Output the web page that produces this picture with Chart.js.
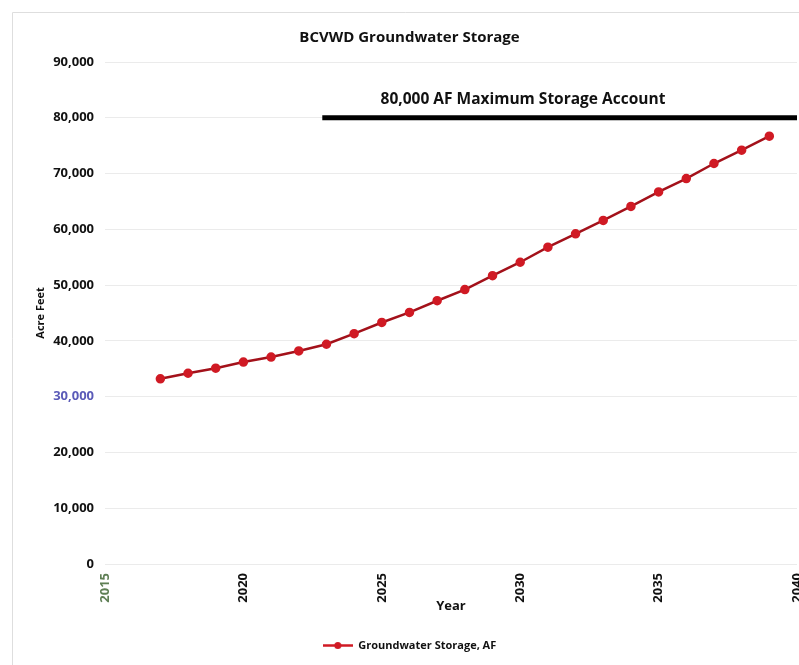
<!DOCTYPE html>
<html>
<head>
<meta charset="utf-8">
<title>BCVWD Groundwater Storage</title>
<script src="https://cdn.jsdelivr.net/npm/chart.js@4/dist/chart.umd.min.js"></script>
<style>
  html, body { margin: 0; padding: 0; background: #fff; }
  #wrap { width: 799px; height: 665px; }
</style>
</head>
<body>
<div id="wrap"><canvas id="storageChart" width="799" height="665"></canvas></div>
<script>
// projected storage by year (acre-feet)
const years = [2017, 2018, 2019, 2020, 2021, 2022, 2023, 2024, 2025, 2026, 2027, 2028,
               2029, 2030, 2031, 2032, 2033, 2034, 2035, 2036, 2037, 2038, 2039];
const storageAF = [33200, 34200, 35100, 36200, 37100, 38200, 39400, 41300, 43300, 45100, 47200, 49200,
                   51700, 54100, 56800, 59200, 61600, 64100, 66700, 69100, 71800, 74200, 76700];

// storage account ceiling, drawn as a heavy bar
const capYears = [2022.85, 2040];
const capAF = [80000, 80000];
const capLabel = '80,000 AF Maximum Storage Account';

const FONT = '"Open Sans", "DejaVu Sans", sans-serif';
const RED = '#d01a24';

// legend swatch: short line with a marker in the middle
const legendSwatch = document.createElement('canvas');
legendSwatch.width = 30;
legendSwatch.height = 9;
(function () {
  const c = legendSwatch.getContext('2d');
  c.strokeStyle = RED;
  c.lineWidth = 2.5;
  c.beginPath(); c.moveTo(0, 4.5); c.lineTo(30, 4.5); c.stroke();
  c.fillStyle = RED;
  c.beginPath(); c.arc(15, 4.5, 3.5, 0, Math.PI * 2); c.fill();
})();

const framePlugin = {
  id: 'frame',
  beforeDraw(chart) {
    const { ctx, width, height } = chart;
    ctx.save();
    ctx.fillStyle = '#fff';
    ctx.fillRect(0, 0, width, height);
    ctx.strokeStyle = '#dedede';
    ctx.lineWidth = 1;
    ctx.beginPath();
    ctx.moveTo(12.5, height);
    ctx.lineTo(12.5, 12.5);
    ctx.lineTo(width, 12.5);
    ctx.stroke();
    ctx.restore();
  }
};

const capLabelPlugin = {
  id: 'capLabel',
  afterDatasetsDraw(chart) {
    const { ctx, scales: { x, y } } = chart;
    ctx.save();
    ctx.font = 'bold 15.5px ' + FONT;
    ctx.fillStyle = '#111';
    ctx.textAlign = 'center';
    ctx.textBaseline = 'middle';
    ctx.fillText(capLabel, x.getPixelForValue(2030.1), y.getPixelForValue(capAF[0]) - 18);
    ctx.restore();
  }
};

new Chart(document.getElementById('storageChart'), {
  type: 'line',
  data: {
    datasets: [
      {
        label: 'Groundwater Storage, AF',
        data: years.map((yr, i) => ({ x: yr, y: storageAF[i] })),
        borderColor: '#a3111a',
        borderWidth: 2.5,
        pointRadius: 3.5,
        pointBackgroundColor: RED,
        pointBorderColor: RED,
        tension: 0
      },
      {
        label: 'Maximum Storage',
        data: capYears.map((yr, i) => ({ x: yr, y: capAF[i] })),
        borderColor: '#000',
        borderWidth: 5,
        pointRadius: 0,
        borderCapStyle: 'butt'
      }
    ]
  },
  options: {
    responsive: false,
    animation: false,
    layout: { autoPadding: false, padding: { left: 22, right: 2, top: 0, bottom: 4 } },
    plugins: {
      title: {
        display: true,
        text: 'BCVWD Groundwater Storage',
        color: '#111',
        font: { family: FONT, size: 15, weight: 'bold' },
        padding: { top: 29, bottom: 15 }
      },
      legend: {
        position: 'bottom',
        labels: {
          usePointStyle: true,
          pointStyleWidth: 30,
          padding: 8,
          color: '#111',
          font: { family: FONT, size: 11, weight: 'bold' },
          generateLabels(chart) {
            const items = Chart.defaults.plugins.legend.labels.generateLabels(chart)
              .filter(item => item.datasetIndex === 0);
            items.forEach(item => { item.pointStyle = legendSwatch; });
            return items;
          }
        }
      },
      tooltip: { enabled: false }
    },
    scales: {
      x: {
        type: 'linear',
        min: 2015,
        max: 2040,
        border: { display: false },
        grid: { display: false, drawTicks: false },
        ticks: {
          stepSize: 5,
          minRotation: 90,
          maxRotation: 90,
          padding: 9,
          color: ctx => (ctx.tick.value === 2015 ? '#5f7f55' : '#111'),
          font: { family: FONT, size: 13, weight: 'bold' },
          callback: v => String(v)
        },
        title: {
          display: true,
          text: 'Year',
          color: '#111',
          font: { family: FONT, size: 13, weight: 'bold' },
          padding: { top: 0, bottom: 18 }
        },
        afterFit(scale) {
          // let the end labels run to the canvas edges
          scale.height = 68;
          scale.paddingLeft = 0;
          scale.paddingRight = 0;
        }
      },
      y: {
        min: 0,
        max: 90000,
        border: { display: false },
        grid: { color: '#ebebeb', drawTicks: false },
        ticks: {
          stepSize: 10000,
          padding: 11,
          color: ctx => (ctx.tick.value === 30000 ? '#5a5ab8' : '#111'),
          font: { family: FONT, size: 13, weight: 'bold' }
        },
        title: {
          display: true,
          text: 'Acre Feet',
          color: '#111',
          font: { family: FONT, size: 11, weight: 'bold' },
          padding: { top: 12, bottom: 0 }
        },
        afterFit(scale) {
          scale.width = 83;
        }
      }
    }
  },
  plugins: [framePlugin, capLabelPlugin]
});
</script>
</body>
</html>
